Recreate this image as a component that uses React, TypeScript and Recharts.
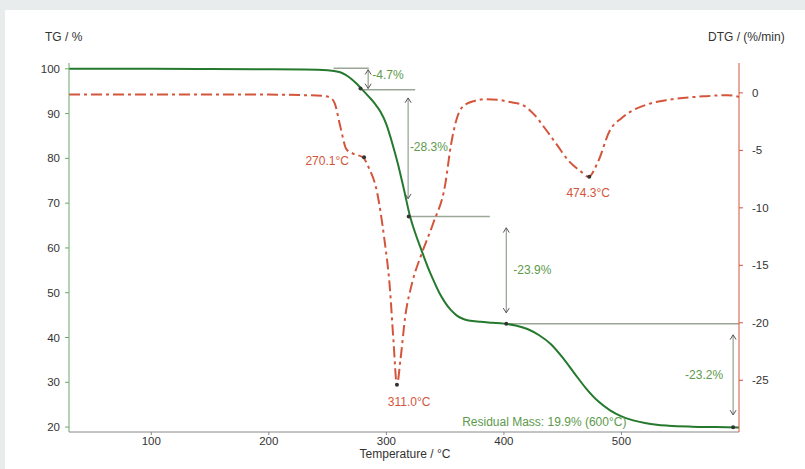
import { ComposedChart, Line, XAxis, YAxis, ReferenceLine, ReferenceDot } from "recharts";

// TG curve (mass %)
const tgTemp = [30, 100, 150, 200, 230, 250, 260, 265, 270, 275, 280, 285, 290, 295, 300, 305, 310, 315, 320, 325, 330, 335, 340, 345, 350, 355, 360, 365, 370, 380, 390, 400, 410, 420, 430, 440, 450, 460, 470, 480, 490, 500, 510, 520, 530, 540, 560, 580, 600];
const tgMass = [100.0, 100.0, 99.95, 99.9, 99.85, 99.7, 99.3, 98.7, 97.8, 96.6, 95.2, 93.8, 92.3, 90.4, 87.6, 83.4, 78.6, 73.0, 67.2, 63.0, 59.4, 55.9, 52.8, 50.0, 47.8, 46.1, 44.9, 44.2, 43.8, 43.5, 43.3, 43.1, 42.7, 41.9, 40.5, 38.5, 35.5, 32.0, 28.6, 25.8, 23.8, 22.4, 21.5, 20.9, 20.5, 20.3, 20.1, 20.0, 19.9];

// DTG curve (%/min)
const dtgTemp = [30, 100, 200, 230, 245, 252, 256, 261, 266, 272, 280, 285, 292, 298, 303, 306, 309, 312, 316, 322, 330, 340, 350, 355, 360, 365, 375, 385, 395, 405, 415, 425, 435, 445, 455, 465, 472, 480, 490, 500, 510, 522, 540, 570, 590, 600];
const dtgRate = [-0.15, -0.15, -0.15, -0.2, -0.25, -0.4, -0.9, -3.0, -4.9, -5.3, -5.6, -6.5, -8.6, -12.5, -17.0, -21.5, -25.4, -23.2, -19.5, -16.5, -14.0, -11.3, -8.0, -4.5, -2.2, -1.2, -0.7, -0.55, -0.6, -0.8, -1.0, -1.8, -3.1, -4.5, -5.9, -6.8, -7.3, -6.0, -3.3, -2.2, -1.5, -1.0, -0.6, -0.3, -0.2, -0.35];

const xTicks = [100, 200, 300, 400, 500];
const tgTicks = [20, 30, 40, 50, 60, 70, 80, 90, 100];
const dtgTicks = [0, -5, -10, -15, -20, -25];

// mass-loss steps: bracket temperature, from TG, to TG, label
const stepLabels = ["-4.7%", "-28.3%", "-23.9%", "-23.2%"];
const stepX = [284.5, 318.5, 402, 595];
const stepTop = [99.8, 93.5, 64.5, 40.6];
const stepBottom = [95.6, 71.0, 45.5, 22.7];
const stepLabelX = [288, 320, 408, 586.5];
const stepLabelY = [98.6, 82.6, 55.1, 31.6];

// horizontal level lines: x1, x2, TG
const levelX1 = [255, 279, 319, 402];
const levelX2 = [285, 324.5, 388, 600];
const levelY = [100.1, 95.3, 67.0, 43.1];

// markers on the TG curve
const tgMarkT = [278, 319, 402, 595];
const tgMarkV = [95.6, 67.0, 43.1, 19.95];

// DTG peaks
const peakLabels = ["270.1°C", "311.0°C", "474.3°C"];
const peakT = [281, 309, 472.6];
const peakV = [-5.6, -25.4, -7.3];
const peakLabelT = [249.6, 319.4, 471.7];
const peakLabelV = [-5.9, -26.9, -8.7];

const tgData = tgTemp.map((t, i) => ({ t, tg: tgMass[i] }));
const dtgData = dtgTemp.map((t, i) => ({ t, dtg: dtgRate[i] }));

const GREEN = "#25792f";
const RED = "#d4553c";
const FONT = "'Liberation Sans', Arial, sans-serif";

const arrowLine = (p: any) => {
  const { x1, y1, x2, y2 } = p;
  const a = 3;
  return (
    <g>
      <line x1={x1} y1={y1} x2={x2} y2={y2} stroke="#7f8f7c" strokeWidth={1} />
      <path d={`M${x1 - a},${y1 + a * 1.6} L${x1},${y1} L${x1 + a},${y1 + a * 1.6}`} fill="none" stroke="#555" strokeWidth={1} />
      <path d={`M${x2 - a},${y2 - a * 1.6} L${x2},${y2} L${x2 + a},${y2 - a * 1.6}`} fill="none" stroke="#555" strokeWidth={1} />
    </g>
  );
};

const textShape = (value: string, color: string, anchor: string, size = 12) => (p: any) => (
  <text x={p.cx} y={p.cy} dy="0.35em" textAnchor={anchor} fill={color} fontSize={size} fontFamily={FONT}>
    {value}
  </text>
);

const tickStyle = { fill: "#333", fontSize: 11.5, fontFamily: FONT };

export default function App() {
  return (
    <div style={{ position: "absolute", left: 0, top: 0, width: 805, height: 469, background: "#e9ecec", fontFamily: FONT }}>
      <div style={{ position: "absolute", left: 5, top: 10, right: 0, bottom: 0, background: "#fff" }} />
      <div style={{ position: "absolute", left: 45, top: 30, fontSize: 12, color: "#333" }}>TG / %</div>
      <div style={{ position: "absolute", left: 708, top: 30, fontSize: 12, color: "#333" }}>DTG / (%/min)</div>
      <div style={{ position: "absolute", left: 305, width: 200, textAlign: "center", top: 447, fontSize: 12, color: "#333" }}>
        Temperature / °C
      </div>
      <div style={{ position: "absolute", left: 0, top: 0 }}>
        <ComposedChart width={805} height={469} margin={{ top: 63, right: 16, left: 29, bottom: 7 }}>
          <XAxis
            dataKey="t"
            type="number"
            domain={[30, 600]}
            ticks={xTicks}
            allowDataOverflow
            height={30}
            stroke="#888"
            tickSize={3}
            tickMargin={2}
            tick={tickStyle}
          />
          <YAxis
            yAxisId="tg"
            orientation="left"
            domain={[18.9, 101.3]}
            ticks={tgTicks}
            allowDataOverflow
            width={40}
            stroke="#6aa86a"
            tickSize={4}
            tickMargin={5}
            tick={tickStyle}
          />
          <YAxis
            yAxisId="dtg"
            orientation="right"
            domain={[-29.5, 2.6]}
            ticks={dtgTicks}
            allowDataOverflow
            width={50}
            stroke={RED}
            tickSize={4}
            tickMargin={9}
            tick={tickStyle}
          />

          {levelY.map((y, i) => (
            <ReferenceLine
              key={`lv${i}`}
              yAxisId="tg"
              segment={[{ x: levelX1[i], y }, { x: levelX2[i], y }]}
              stroke="#9aa797"
              strokeWidth={1.5}
            />
          ))}
          {stepX.map((x, i) => (
            <ReferenceLine
              key={`st${i}`}
              yAxisId="tg"
              segment={[{ x, y: stepTop[i] }, { x, y: stepBottom[i] }]}
              shape={arrowLine}
            />
          ))}

          <Line
            data={dtgData}
            yAxisId="dtg"
            dataKey="dtg"
            type="monotone"
            stroke={RED}
            strokeWidth={2}
            strokeDasharray="11 4 3 4"
            dot={false}
            activeDot={false}
            isAnimationActive={false}
          />
          <Line
            data={tgData}
            yAxisId="tg"
            dataKey="tg"
            type="monotone"
            stroke={GREEN}
            strokeWidth={2}
            dot={false}
            activeDot={false}
            isAnimationActive={false}
          />

          {tgMarkT.map((t, i) => (
            <ReferenceDot key={`tm${i}`} yAxisId="tg" x={t} y={tgMarkV[i]} r={2} fill="#333" stroke="none" />
          ))}
          {peakT.map((t, i) => (
            <ReferenceDot key={`pm${i}`} yAxisId="dtg" x={t} y={peakV[i]} r={2} fill="#333" stroke="none" />
          ))}

          {stepLabels.map((s, i) => (
            <ReferenceDot
              key={`sl${i}`}
              yAxisId="tg"
              x={stepLabelX[i]}
              y={stepLabelY[i]}
              shape={textShape(s, "#5d9a4c", i === 3 ? "end" : "start")}
            />
          ))}
          {peakLabels.map((s, i) => (
            <ReferenceDot
              key={`pl${i}`}
              yAxisId="dtg"
              x={peakLabelT[i]}
              y={peakLabelV[i]}
              shape={textShape(s, RED, "middle")}
            />
          ))}
          <ReferenceDot
            yAxisId="tg"
            x={364.5}
            y={21.2}
            shape={textShape("Residual Mass: 19.9% (600°C)", "#5d9a4c", "start")}
          />
        </ComposedChart>
      </div>
    </div>
  );
}
